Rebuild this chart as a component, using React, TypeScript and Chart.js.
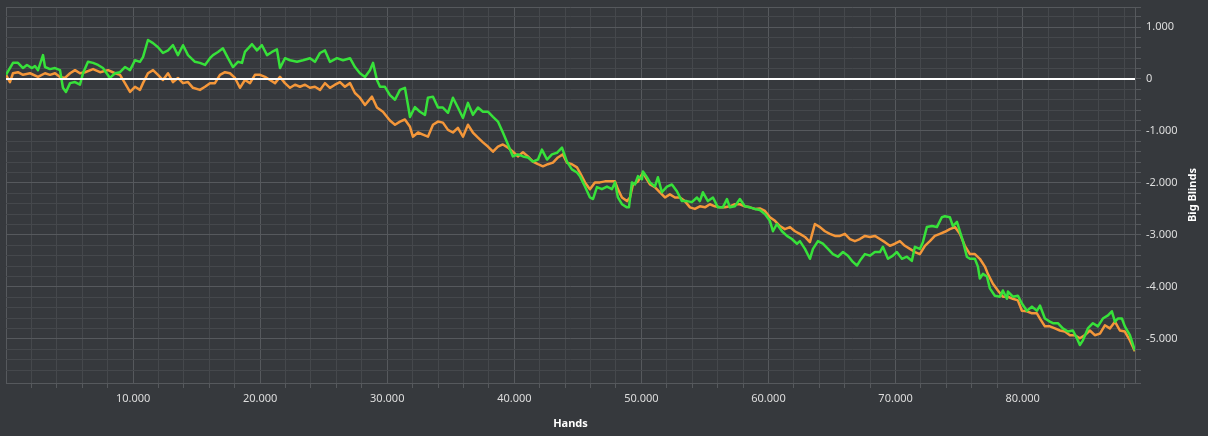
import React, { useEffect, useRef } from "react";
import { Chart, registerables } from "chart.js";

Chart.register(...registerables);

const FONT = "'Segoe UI', 'Noto Sans', sans-serif";
const BG = "#36393d";
const GRID_MAJOR = "#56595d";
const GRID_MINOR = "#45484c";
const LABEL_COLOR = "#dedede";
const GREEN = "#37e13a";
const ORANGE = "#f4973a";

const xTitle = "Hands";
const yTitle = "Big Blinds";

const X_MIN = 0;
const X_MAX = 88840;
const Y_MIN = -5850;
const Y_MAX = 1385;
const X_STEP = 2000;
const X_LABEL_STEP = 10000;
const Y_STEP = 200;
const Y_LABEL_STEP = 1000;

// Axis tick positions (grid every step, labels every label step)
const xTickValues: number[] = [];
for (let v = X_MIN; v < X_MAX; v += X_STEP) xTickValues.push(v);
xTickValues.push(X_MAX);
const yTickValues: number[] = [Y_MIN];
for (let v = -5600; v <= 1200; v += Y_STEP) yTickValues.push(v);
yTickValues.push(Y_MAX);

// Series 1 (green)
const greenHands = [
  0, 550, 940, 1340, 1650, 2050, 2280, 2520, 2910, 3070,
  3460, 3860, 4250, 4480, 4720, 5040, 5430, 5820, 6060, 6450,
  6850, 7240, 7630, 8180, 8580, 8970, 9360, 9760, 10150, 10540,
  10780, 11170, 11570, 11960, 12350, 12750, 13140, 13530, 13930, 14320,
  14870, 15260, 15660, 16050, 16290, 16680, 17070, 17470, 17860, 18250,
  18570, 18800, 19360, 19750, 20140, 20540, 20930, 21320, 21560, 21950,
  22350, 22900, 23370, 23920, 24310, 24710, 25100, 25490, 26040, 26520,
  27070, 27460, 27850, 28250, 28640, 28880, 29190, 29430, 29820, 30210,
  30610, 31000, 31390, 31630, 31790, 32180, 32570, 32970, 33200, 33600,
  33990, 34380, 34780, 35170, 35560, 35960, 36350, 36740, 37140, 37530,
  37920, 38320, 38710, 39100, 39500, 39890, 40280, 40680, 41070, 41460,
  41860, 42170, 42570, 42960, 43350, 43750, 44140, 44530, 44930, 45160,
  45560, 45950, 46190, 46500, 46890, 47290, 47680, 47920, 48150, 48470,
  48860, 49020, 49250, 49490, 49730, 50040, 50120, 50430, 50670, 51060,
  51300, 51610, 52010, 52400, 52790, 53190, 53580, 53970, 54370, 54600,
  54840, 55230, 55630, 56020, 56410, 56730, 56960, 57360, 57750, 58140,
  58540, 58930, 59320, 59720, 60110, 60350, 60660, 61060, 61450, 61840,
  62240, 62470, 62870, 63260, 63500, 63890, 64280, 64680, 65070, 65460,
  65860, 66250, 66640, 66960, 67190, 67590, 67980, 68370, 68770, 69000,
  69400, 69790, 70100, 70500, 70890, 71280, 71520, 71910, 72150, 72460,
  72860, 73250, 73640, 73880, 74270, 74510, 74830, 75060, 75300, 75610,
  75850, 76240, 76480, 76630, 76870, 77190, 77420, 77810, 78210, 78440,
  78760, 78840, 79230, 79620, 79940, 80330, 80730, 81120, 81360, 81750,
  82140, 82380, 82770, 83160, 83560, 83950, 84270, 84500, 84740, 85130,
  85530, 85920, 86310, 86710, 87020, 87260, 87490, 87810, 88040, 88440,
  88830,
];
const greenBB = [
  80, 310, 310, 210, 270, 210, 250, 170, 460, 230,
  190, 210, 170, -170, -250, -80, -60, -110, 110, 330,
  310, 270, 210, 20, 110, 130, 230, 170, 360, 330,
  420, 750, 690, 610, 500, 550, 650, 460, 650, 460,
  330, 310, 270, 400, 460, 520, 590, 400, 230, 330,
  310, 520, 670, 550, 650, 460, 520, 570, 210, 400,
  360, 330, 360, 400, 330, 500, 550, 330, 400, 360,
  400, 230, 110, 40, 170, 310, -20, -150, -150, -310,
  -400, -210, -170, -500, -730, -540, -630, -690, -360, -340,
  -550, -550, -650, -360, -550, -750, -460, -690, -550, -630,
  -630, -730, -820, -1030, -1260, -1490, -1450, -1490, -1510, -1590,
  -1550, -1360, -1550, -1450, -1420, -1320, -1590, -1740, -1800, -1870,
  -2070, -2280, -2310, -2080, -2120, -2070, -2120, -1990, -2280, -2410,
  -2470, -2470, -1990, -2030, -1870, -1930, -1780, -1890, -1990, -2070,
  -1890, -2180, -2070, -2030, -2160, -2350, -2350, -2370, -2280, -2350,
  -2180, -2350, -2280, -2470, -2470, -2310, -2470, -2450, -2310, -2450,
  -2470, -2500, -2520, -2600, -2730, -2930, -2790, -2930, -3020, -3080,
  -3170, -3120, -3270, -3460, -3270, -3120, -3170, -3270, -3370, -3420,
  -3330, -3400, -3520, -3590, -3500, -3370, -3400, -3330, -3330, -3230,
  -3460, -3400, -3330, -3460, -3420, -3500, -3230, -3270, -3140, -2850,
  -2830, -2850, -2660, -2640, -2660, -2830, -2750, -2930, -3120, -3420,
  -3460, -3460, -3610, -3840, -3750, -3800, -4030, -4170, -4190, -4070,
  -4230, -4090, -4190, -4170, -4320, -4460, -4380, -4460, -4360, -4610,
  -4670, -4700, -4700, -4800, -4860, -4840, -4990, -5120, -5030, -4800,
  -4700, -4760, -4610, -4550, -4470, -4670, -4610, -4610, -4760, -4930,
  -5220,
];

// Series 2 (orange)
const orangeHands = [
  0, 310, 550, 940, 1340, 1890, 2520, 3070, 3460, 3860,
  4250, 4640, 5040, 5430, 5820, 6220, 6850, 7400, 8030, 8580,
  8970, 9360, 9760, 10150, 10540, 10780, 11170, 11570, 11960, 12350,
  12750, 13140, 13530, 13930, 14320, 14710, 15260, 15660, 16050, 16440,
  16840, 17230, 17620, 18020, 18410, 18800, 19200, 19590, 19990, 20380,
  20770, 21170, 21560, 21950, 22350, 22740, 23130, 23530, 23920, 24310,
  24710, 25100, 25490, 25890, 26280, 26670, 27070, 27460, 27850, 28250,
  28800, 29190, 29660, 30210, 30610, 31000, 31390, 31790, 32020, 32420,
  32810, 33200, 33600, 33990, 34380, 34780, 35170, 35560, 35960, 36350,
  36740, 37140, 37530, 37920, 38320, 38710, 39100, 39500, 39890, 40280,
  40680, 41070, 41460, 41860, 42250, 42640, 43040, 43430, 43820, 44140,
  44530, 44930, 45160, 45560, 45950, 46340, 46740, 47130, 47520, 47920,
  48150, 48470, 48860, 49100, 49330, 49730, 50120, 50430, 50670, 51060,
  51460, 51850, 52240, 52640, 53030, 53420, 53820, 54210, 54600, 55000,
  55390, 55780, 56180, 56570, 56960, 57360, 57750, 58140, 58540, 58930,
  59320, 59720, 60110, 60510, 60900, 61290, 61690, 62080, 62470, 62870,
  63260, 63650, 64050, 64440, 64830, 65230, 65620, 66010, 66410, 66800,
  67190, 67590, 67980, 68370, 68770, 69160, 69550, 69950, 70340, 70730,
  71130, 71520, 71910, 72310, 72700, 73090, 73490, 73880, 74270, 74670,
  75060, 75450, 75850, 76240, 76630, 77030, 77260, 77660, 78050, 78440,
  78840, 79230, 79620, 79940, 80330, 80730, 81120, 81360, 81750, 82140,
  82540, 82930, 83320, 83720, 84110, 84500, 84900, 85290, 85680, 86080,
  86470, 86860, 87260, 87650, 88040, 88440, 88830,
];
const orangeBB = [
  80, -60, 110, 130, 80, 110, 40, 110, 80, 110,
  40, 20, 110, 170, 110, 130, 190, 130, 170, 110,
  80, -80, -250, -150, -210, -80, 110, 170, 80, -20,
  110, -60, 20, -80, -60, -170, -210, -150, -80, -80,
  80, 130, 110, 20, -170, -20, -80, 80, 80, 40,
  -20, -80, 40, -80, -170, -110, -150, -110, -170, -150,
  -210, -80, -170, -110, -60, -150, -80, -270, -360, -500,
  -340, -550, -630, -800, -880, -820, -780, -920, -1110, -1030,
  -1070, -1110, -880, -820, -840, -980, -1030, -940, -1110, -880,
  -1030, -1130, -1220, -1300, -1400, -1300, -1260, -1320, -1400, -1490,
  -1410, -1490, -1590, -1640, -1680, -1640, -1610, -1510, -1450, -1610,
  -1640, -1700, -1800, -1990, -2120, -1990, -1990, -1970, -1970, -1970,
  -2120, -2280, -2350, -2280, -2030, -1970, -1800, -1930, -2030, -2080,
  -2180, -2280, -2220, -2280, -2280, -2350, -2470, -2500, -2450, -2470,
  -2410, -2450, -2470, -2470, -2450, -2410, -2410, -2450, -2470, -2500,
  -2490, -2540, -2660, -2730, -2830, -2890, -2850, -2930, -2980, -3040,
  -3140, -2790, -2850, -2930, -2980, -3020, -3020, -2980, -3080, -3120,
  -3080, -3020, -3040, -3020, -3080, -3140, -3210, -3170, -3120, -3210,
  -3270, -3330, -3370, -3210, -3120, -3020, -2980, -2940, -2890, -2850,
  -2980, -3210, -3370, -3370, -3460, -3610, -3750, -3940, -4070, -4190,
  -4190, -4230, -4260, -4460, -4470, -4510, -4510, -4610, -4760, -4760,
  -4800, -4840, -4860, -4930, -4930, -4990, -4930, -4840, -4930, -4900,
  -4740, -4800, -4670, -4840, -4860, -5030, -5240,
];

function fmt(v: number): string {
  const s = Math.abs(Math.round(v)).toString().replace(/\B(?=(\d{3})+(?!\d))/g, ".");
  return (v < 0 ? "-" : "") + s;
}

function isMultiple(v: number, step: number): boolean {
  const r = Math.abs(v) % step;
  return r < 1e-6 || step - r < 1e-6;
}

function xLabel(n: number): string {
  return n !== 0 && isMultiple(n, X_LABEL_STEP) ? fmt(n) : "";
}
function yLabel(n: number): string {
  return isMultiple(n, Y_LABEL_STEP) ? fmt(n) : "";
}

function pairs(xs: number[], ys: number[]) {
  const n = Math.min(xs.length, ys.length);
  const out: { x: number; y: number }[] = [];
  for (let i = 0; i < n; i++) out.push({ x: xs[i], y: ys[i] });
  return out;
}

const zeroLinePlugin = {
  id: "zeroLine",
  afterDatasetsDraw(chart: any) {
    const { ctx, chartArea: a, scales } = chart;
    const py = Math.round(scales.y.getPixelForValue(0));
    ctx.save();
    ctx.strokeStyle = "#ffffff";
    ctx.lineWidth = 2;
    ctx.beginPath();
    ctx.moveTo(a.left, py);
    ctx.lineTo(a.right, py);
    ctx.stroke();
    ctx.restore();
  },
};

// Right-hand axis title, reading bottom-to-top as in the reference
const yTitlePlugin = {
  id: "yTitleRot",
  afterDraw(chart: any) {
    const { ctx, chartArea: a } = chart;
    ctx.save();
    ctx.translate(chart.width - 15, (a.top + a.bottom) / 2);
    ctx.rotate(-Math.PI / 2);
    ctx.font = `bold 11px ${FONT}`;
    ctx.fillStyle = "#ffffff";
    ctx.textAlign = "center";
    ctx.textBaseline = "middle";
    ctx.fillText(yTitle, 0, 0);
    ctx.restore();
  },
};

export default function App() {
  const ref = useRef<HTMLCanvasElement>(null);

  useEffect(() => {
    if (!ref.current) return;
    const chart = new Chart(ref.current, {
      type: "line",
      data: {
        datasets: [
          {
            label: "green",
            data: pairs(greenHands, greenBB),
            borderColor: GREEN,
            borderWidth: 2.5,
            pointRadius: 0,
            tension: 0,
            borderJoinStyle: "round",
          },
          {
            label: "orange",
            data: pairs(orangeHands, orangeBB),
            borderColor: ORANGE,
            borderWidth: 2.5,
            pointRadius: 0,
            tension: 0,
            borderJoinStyle: "round",
          },
        ],
      },
      plugins: [zeroLinePlugin, yTitlePlugin],
      options: {
        animation: false,
        responsive: true,
        maintainAspectRatio: false,
        parsing: false,
        layout: { padding: { left: 6, top: 7, right: 0, bottom: 0 } },
        plugins: {
          legend: { display: false },
          tooltip: { enabled: false },
        },
        scales: {
          x: {
            type: "linear",
            position: "bottom",
            min: X_MIN,
            max: X_MAX,
            afterBuildTicks: (s: any) => {
              s.ticks = xTickValues.map((v) => ({ value: v }));
            },
            afterFit: (s: any) => {
              s.height = 53;
              s.paddingLeft = 0;
              s.paddingRight = 0;
            },
            ticks: {
              autoSkip: false,
              maxRotation: 0,
              minRotation: 0,
              padding: 4,
              color: LABEL_COLOR,
              font: { family: FONT, size: 11 },
              callback: (v: any) => xLabel(Number(v)),
            },
            grid: {
              color: (c: any) => {
                const v = c.tick ? c.tick.value : 0;
                return isMultiple(v, X_LABEL_STEP) || v === X_MAX ? GRID_MAJOR : GRID_MINOR;
              },
              tickColor: (c: any) => {
                const v = c.tick ? c.tick.value : 0;
                return isMultiple(v, X_LABEL_STEP) || v === X_MAX ? "rgba(0,0,0,0)" : GRID_MAJOR;
              },
              tickLength: 5,
              lineWidth: 1,
            },
            border: { display: true, color: GRID_MAJOR },
            title: {
              display: true,
              text: xTitle,
              color: "#ffffff",
              font: { family: FONT, size: 11, weight: "bold" },
              padding: { top: 0, bottom: 6 },
            },
          },
          y: {
            type: "linear",
            position: "right",
            min: Y_MIN,
            max: Y_MAX,
            afterBuildTicks: (s: any) => {
              s.ticks = yTickValues.map((v) => ({ value: v }));
            },
            afterFit: (s: any) => {
              s.width = 73;
              s.paddingTop = 0;
              s.paddingBottom = 0;
            },
            ticks: {
              autoSkip: false,
              padding: 5,
              color: LABEL_COLOR,
              font: { family: FONT, size: 11 },
              callback: (v: any) => yLabel(Number(v)),
            },
            grid: {
              color: (c: any) => {
                const v = c.tick ? c.tick.value : 0;
                return isMultiple(v, Y_LABEL_STEP) || v === Y_MAX || v === Y_MIN ? GRID_MAJOR : GRID_MINOR;
              },
              tickColor: GRID_MAJOR,
              tickLength: 6,
              lineWidth: 1,
            },
            border: { display: true, color: GRID_MAJOR },
          },
        },
      } as any,
    });
    return () => chart.destroy();
  }, []);

  return (
    <div
      style={{
        position: "fixed",
        left: 0,
        top: 0,
        width: 1208,
        height: 436,
        background: BG,
      }}
    >
      <canvas ref={ref} />
    </div>
  );
}
